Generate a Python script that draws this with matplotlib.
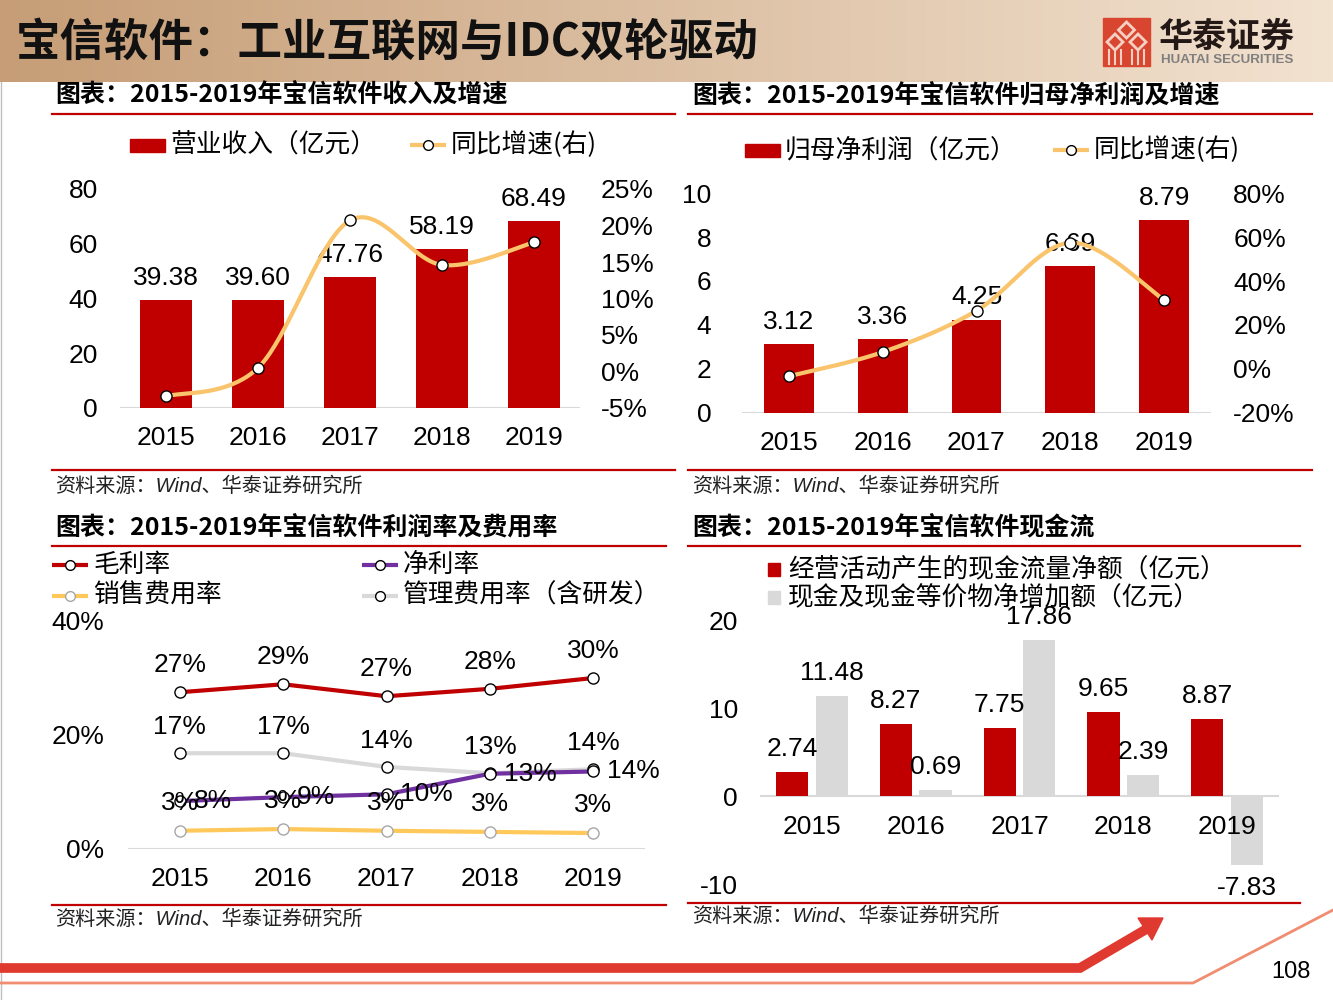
"""宝信软件 slide: four small charts on one page (revenue, net profit, margins, cash flow)."""
import numpy as np
import matplotlib
matplotlib.use("Agg")
import matplotlib.pyplot as plt
from matplotlib.patches import Rectangle, Polygon

NUM = ["Liberation Sans", "Noto Sans CJK SC"]
CJK = ["Noto Sans CJK SC", "DejaVu Sans"]
plt.rcParams["font.family"] = NUM
plt.rcParams["axes.unicode_minus"] = False

years = ["2015", "2016", "2017", "2018", "2019"]

# chart 1: revenue (亿元) and yoy growth (%)
revenue = [39.38, 39.60, 47.76, 58.19, 68.49]
revenue_growth = [-3.4, 0.5, 20.7, 14.6, 17.7]

# chart 2: net profit attributable to parent (亿元) and yoy growth (%)
net_profit = [3.12, 3.36, 4.25, 6.69, 8.79]
profit_growth = [-3.3, 7.7, 26.5, 57.4, 31.4]

# chart 3: margins and expense ratios (%)
gross_margin = [27.5, 28.9, 26.8, 28.1, 30.0]
net_margin = [8.4, 9.1, 9.6, 13.2, 13.6]
sales_ratio = [3.2, 3.5, 3.2, 3.0, 2.8]
admin_ratio = [16.8, 16.8, 14.4, 13.3, 14.0]
gross_labels = ["27%", "29%", "27%", "28%", "30%"]
net_labels = ["8%", "9%", "10%", "13%", "14%"]
sales_labels = ["3%", "3%", "3%", "3%", "3%"]
admin_labels = ["17%", "17%", "14%", "13%", "14%"]

# chart 4: cash flow (亿元)
op_cash = [2.74, 8.27, 7.75, 9.65, 8.87]
net_cash_change = [11.48, 0.69, 17.86, 2.39, -7.83]

RED = "#C00000"
YELLOW = "#F9C46B"
PURPLE = "#7030A0"
GREY = "#D9D9D9"
BASE = "#D9D9D9"
FS = 19      # numbers
LFS = 18.5   # legend text

W, H = 1333, 1000
fig = plt.figure(figsize=(W / 100, H / 100), dpi=100)


def px_axes(l, t, r, b):
    ax = fig.add_axes([l / W, 1 - b / H, (r - l) / W, (b - t) / H])
    ax.patch.set_alpha(0)
    for s in ax.spines.values():
        s.set_visible(False)
    ax.tick_params(length=0, labelsize=FS)
    return ax


def smooth(xv, yv, n=40):
    # bezier smoothing like the office "smoothed line" option
    pts = np.column_stack([xv, yv]).astype(float)
    P = np.vstack([pts[0], pts, pts[-1]])
    out = []
    t = np.linspace(0, 1, n)[:, None]
    for i in range(len(pts) - 1):
        p0, p1, p2, p3 = P[i], P[i + 1], P[i + 2], P[i + 3]
        c1 = p1 + (p2 - p0) / 6
        c2 = p2 - (p3 - p1) / 6
        out.append((1 - t) ** 3 * p1 + 3 * (1 - t) ** 2 * t * c1
                   + 3 * (1 - t) * t ** 2 * c2 + t ** 3 * p2)
    arr = np.vstack(out)
    return arr[:, 0], arr[:, 1]


def label(ax, x, y, s, dy, dx=0, ha="center"):
    ax.annotate(s, (x, y), xytext=(dx, dy), textcoords="offset pixels",
                ha=ha, va="center", fontsize=FS, family=NUM)


# background layer in pixel coordinates
bg = fig.add_axes([0, 0, 1, 1])
bg.set_xlim(0, W)
bg.set_ylim(H, 0)
bg.axis("off")

c0 = np.array([198, 157, 118]) / 255
c1 = np.array([242, 226, 208]) / 255
g = np.linspace(0, 1, 400)[None, :, None]
grad = c0 + (c1 - c0) * g
bg.imshow(np.repeat(grad, 2, axis=0), extent=[0, W, 82, 0], aspect="auto", zorder=0)
bg.plot([1, 1], [82, H], color="#BFBFBF", lw=1)

bg.text(16, 44, "宝信软件：工业互联网与IDC双轮驱动", fontsize=32, fontweight="bold",
        family=CJK, va="center", ha="left", color="#111111")

# logo
bg.add_patch(Rectangle((1103, 18), 47, 48, color="#D9462F", zorder=2))
for cx, cy in [(1126.5, 30), (1115, 42), (1138, 42)]:
    bg.add_patch(Polygon([(cx, cy - 8), (cx + 8, cy), (cx, cy + 8), (cx - 8, cy)],
                         closed=True, fill=False, ec="#F4CFC2", lw=2, zorder=3))
for xx in [1109, 1115, 1121, 1132, 1138, 1144]:
    bg.plot([xx, xx], [50, 64], color="#F4CFC2", lw=1.5, zorder=3)
bg.text(1159, 36, "华泰证券", fontsize=24.5, fontweight="bold", family=CJK,
        va="center", ha="left", color="#231815")
bg.text(1161, 60, "HUATAI SECURITIES", fontsize=9.6, fontweight="bold",
        va="center", ha="left", color="#7F7F7F")

# section titles, rules, sources
titles = [(55, 96, "图表：2015-2019年宝信软件收入及增速"),
          (692, 96, "图表：2015-2019年宝信软件归母净利润及增速"),
          (55, 528, "图表：2015-2019年宝信软件利润率及费用率"),
          (692, 528, "图表：2015-2019年宝信软件现金流")]
for x, y, s in titles:
    bg.text(x, y, s, fontsize=18, fontweight="bold", family=CJK, va="center", ha="left")

rules = [(52, 675, 114), (688, 1312, 114), (52, 675, 470), (688, 1312, 470),
         (52, 666, 546), (688, 1300, 546), (52, 666, 905), (688, 1300, 903)]
for xa, xb, y in rules:
    bg.plot([xa, xb], [y, y], color=RED, lw=1.6)

for x, y in [(55, 486), (692, 486), (55, 919), (692, 916)]:
    bg.text(x, y, "资料来源：Wind、华泰证券研究所", fontsize=14.5, style="italic",
            family=NUM, va="center", ha="left", color="#222222")


def legend_bar(x, y, s, color, w=35, h=13):
    bg.add_patch(Rectangle((x, y - h / 2), w, h, color=color))
    bg.text(x + w + 5, y, s, fontsize=LFS, family=CJK, va="center", ha="left")


def legend_line(x, y, s, color, ec="black", w=36):
    bg.plot([x, x + w], [y, y], color=color, lw=3, solid_capstyle="butt")
    bg.plot([x + w / 2], [y], "o", ms=7, mfc="white", mec=ec, mew=1)
    bg.text(x + w + 5, y, s, fontsize=LFS, family=CJK, va="center", ha="left")


xs = np.arange(len(years))

# ---- chart 1 ----
ax1 = px_axes(120, 189, 580, 408)
ax1.bar(xs, revenue, width=52 / 92, color=RED, zorder=2)
ax1.set_xlim(-0.5, 4.5)
ax1.set_ylim(0, 80)
ax1.set_yticks(range(0, 81, 20))
ax1.set_xticks(xs, years)
ax1.tick_params(axis="y", pad=16)
ax1.tick_params(axis="x", pad=13)
ax1.axhline(0, color=BASE, lw=1.5, zorder=1)
for i, v in enumerate(revenue):
    label(ax1, i, v, f"{v:.2f}", 22)
ax1r = ax1.twinx()
for s in ax1r.spines.values():
    s.set_visible(False)
ax1r.set_ylim(-5, 25)
ax1r.set_yticks(range(-5, 26, 5), [f"{v}%" for v in range(-5, 26, 5)])
ax1r.tick_params(length=0, labelsize=FS, pad=15)
sx, sy = smooth(xs, revenue_growth)
ax1r.plot(sx, sy, color=YELLOW, lw=3)
ax1r.plot(xs, revenue_growth, "o", ms=8, mfc="white", mec="black", mew=1)
legend_bar(130, 145, "营业收入（亿元）", RED)
legend_line(410, 145, "同比增速(右)", YELLOW)

# ---- chart 2 ----
ax2 = px_axes(742, 193, 1211, 413)
ax2.bar(xs, net_profit, width=50 / 94, color=RED, zorder=2)
ax2.set_xlim(-0.5, 4.5)
ax2.set_ylim(0, 10)
ax2.set_yticks(range(0, 11, 2))
ax2.set_xticks(xs, years)
ax2.tick_params(axis="y", pad=22)
ax2.tick_params(axis="x", pad=13)
ax2.axhline(0, color=BASE, lw=1.5, zorder=1)
for i, v in enumerate(net_profit):
    label(ax2, i, v, f"{v:.2f}", 22)
ax2r = ax2.twinx()
for s in ax2r.spines.values():
    s.set_visible(False)
ax2r.set_ylim(-20, 80)
ax2r.set_yticks(range(-20, 81, 20), [f"{v}%" for v in range(-20, 81, 20)])
ax2r.tick_params(length=0, labelsize=FS, pad=16)
sx, sy = smooth(xs, profit_growth)
ax2r.plot(sx, sy, color=YELLOW, lw=3)
ax2r.plot(xs, profit_growth, "o", ms=8, mfc="white", mec="black", mew=1)
legend_bar(745, 150, "归母净利润（亿元）", RED)
legend_line(1053, 150, "同比增速(右)", YELLOW)

# ---- chart 3 ----
ax3 = px_axes(128, 621, 645, 849)
ax3.set_xlim(-0.5, 4.5)
ax3.set_ylim(0, 40)
ax3.set_yticks([0, 20, 40], ["0%", "20%", "40%"])
ax3.set_xticks(xs, years)
ax3.tick_params(axis="y", pad=17)
ax3.tick_params(axis="x", pad=13)
ax3.axhline(0, color=BASE, lw=1.5, zorder=1)
series3 = [(admin_ratio, GREY, "black", admin_labels),
           (sales_ratio, "#FFC85A", "#A6A6A6", sales_labels),
           (net_margin, PURPLE, "black", net_labels),
           (gross_margin, RED, "black", gross_labels)]
for vals, col, ec, labs in series3:
    ax3.plot(xs, vals, color=col, lw=3, zorder=2)
    ax3.plot(xs, vals, "o", ms=8, mfc="white", mec=ec, mew=1, zorder=3)
for i in range(len(years)):
    label(ax3, i, gross_margin[i], gross_labels[i], 27)
    label(ax3, i, admin_ratio[i], admin_labels[i], 26)
    label(ax3, i, sales_ratio[i], sales_labels[i], 28)
    label(ax3, i, net_margin[i], net_labels[i], 0, dx=14, ha="left")
legend_line(52, 565, "毛利率", RED)
legend_line(362, 565, "净利率", PURPLE)
legend_line(52, 596, "销售费用率", "#FFC85A", ec="#A6A6A6")
legend_line(362, 596, "管理费用率（含研发）", GREY)

# ---- chart 4 ----
ax4 = px_axes(760, 621, 1279, 884)
off, bw = 0.19, 0.31
ax4.bar(xs - off, op_cash, width=bw, color=RED, zorder=2)
ax4.bar(xs + off, net_cash_change, width=bw, color=GREY, zorder=2)
ax4.set_xlim(-0.5, 4.5)
ax4.set_ylim(-10, 20)
ax4.set_yticks([-10, 0, 10, 20])
ax4.set_xticks([])
ax4.tick_params(axis="y", pad=16)
ax4.axhline(0, color=BASE, lw=1.5, zorder=1)
for i, y in enumerate(years):
    label(ax4, i, 0, y, -31)
for i, v in enumerate(op_cash):
    label(ax4, i - off, v, f"{v:.2f}", 23)
for i, v in enumerate(net_cash_change):
    label(ax4, i + off, v, f"{v:.2f}", 23 if v >= 0 else -23)
bg.add_patch(Rectangle((768, 563), 12, 13, color=RED))
bg.text(788, 569, "经营活动产生的现金流量净额（亿元）", fontsize=LFS, family=CJK,
        va="center", ha="left")
bg.add_patch(Rectangle((768, 591), 12, 13, color=GREY))
bg.text(788, 597, "现金及现金等价物净增加额（亿元）", fontsize=LFS, family=CJK,
        va="center", ha="left")

# footer decoration
bg.plot([0, 1080, 1150], [968, 968, 927], color="#E03A30", lw=7, solid_capstyle="butt",
        solid_joinstyle="miter")
bg.add_patch(Polygon([(1163, 918), (1138, 918), (1152, 940)], closed=True, color="#E03A30"))
bg.plot([0, 1193, 1333], [983, 983, 910], color="#F08C70", lw=2)
bg.text(1291, 972, "108", fontsize=17, va="center", ha="center")

fig.savefig("out.png", dpi=100)
